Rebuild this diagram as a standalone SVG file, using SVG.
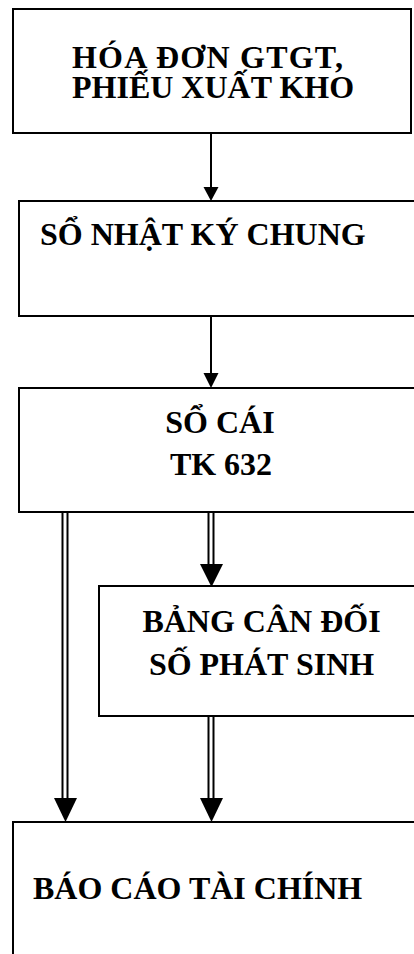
<svg xmlns="http://www.w3.org/2000/svg" width="414" height="954" viewBox="0 0 414 954">
  <style>
    .box { fill: #fff; stroke: #000; stroke-width: 2; }
    .lbl { font-family: "Liberation Serif", "Times New Roman", serif; font-weight: bold; font-size: 32px; fill: #000; }
    .mid { text-anchor: middle; }
    .single { stroke: #000; stroke-width: 2; fill: none; }
    .dbl-outer { stroke: #000; stroke-width: 7; fill: none; }
    .dbl-inner { stroke: #fff; stroke-width: 3; fill: none; }
    .head { fill: #000; stroke: none; }
  </style>
  <rect width="414" height="954" fill="#fff"/>

  <g id="connectors">
    <!-- invoice -> general journal -->
    <line class="single" x1="211" y1="134" x2="211" y2="188"/>
    <polygon class="head" points="203.5,187 218.5,187 211,201"/>
    <!-- general journal -> ledger -->
    <line class="single" x1="211" y1="317" x2="211" y2="374"/>
    <polygon class="head" points="203.5,373 218.5,373 211,388"/>
    <!-- ledger -> trial balance (double) -->
    <line class="dbl-outer" x1="211" y1="513" x2="211" y2="565"/>
    <line class="dbl-inner" x1="211" y1="513" x2="211" y2="565"/>
    <polygon class="head" points="200,564 223,564 211.5,587"/>
    <!-- trial balance -> financial statements (double) -->
    <line class="dbl-outer" x1="211" y1="717" x2="211" y2="799"/>
    <line class="dbl-inner" x1="211" y1="717" x2="211" y2="799"/>
    <polygon class="head" points="200,798 223,798 211.5,822"/>
    <!-- ledger -> financial statements (double) -->
    <line class="dbl-outer" x1="65" y1="513" x2="65" y2="799"/>
    <line class="dbl-inner" x1="65" y1="513" x2="65" y2="799"/>
    <polygon class="head" points="54,798 77,798 65.5,822"/>
  </g>

  <g id="hoa-don">
    <rect class="box" x="13" y="9" width="398" height="124"/>
    <text class="lbl" x="72" y="68" textLength="271" lengthAdjust="spacing">HÓA ĐƠN GTGT,</text>
    <text class="lbl" x="72" y="98">PHIẾU XUẤT KHO</text>
  </g>

  <g id="nhat-ky-chung">
    <rect class="box" x="19" y="201" width="420" height="115"/>
    <text class="lbl" x="40" y="245">SỔ NHẬT KÝ CHUNG</text>
  </g>

  <g id="so-cai">
    <rect class="box" x="19" y="388" width="420" height="124"/>
    <text class="lbl mid" x="220" y="433">SỔ CÁI</text>
    <text class="lbl mid" x="221" y="475">TK 632</text>
  </g>

  <g id="bang-can-doi">
    <rect class="box" x="99" y="586" width="340" height="130"/>
    <text class="lbl mid" x="261.5" y="632">BẢNG CÂN ĐỐI</text>
    <text class="lbl mid" x="261.5" y="675">SỐ PHÁT SINH</text>
  </g>

  <g id="bao-cao">
    <rect class="box" x="13" y="822" width="430" height="200"/>
    <text class="lbl" x="33" y="899">BÁO CÁO TÀI CHÍNH</text>
  </g>
</svg>
